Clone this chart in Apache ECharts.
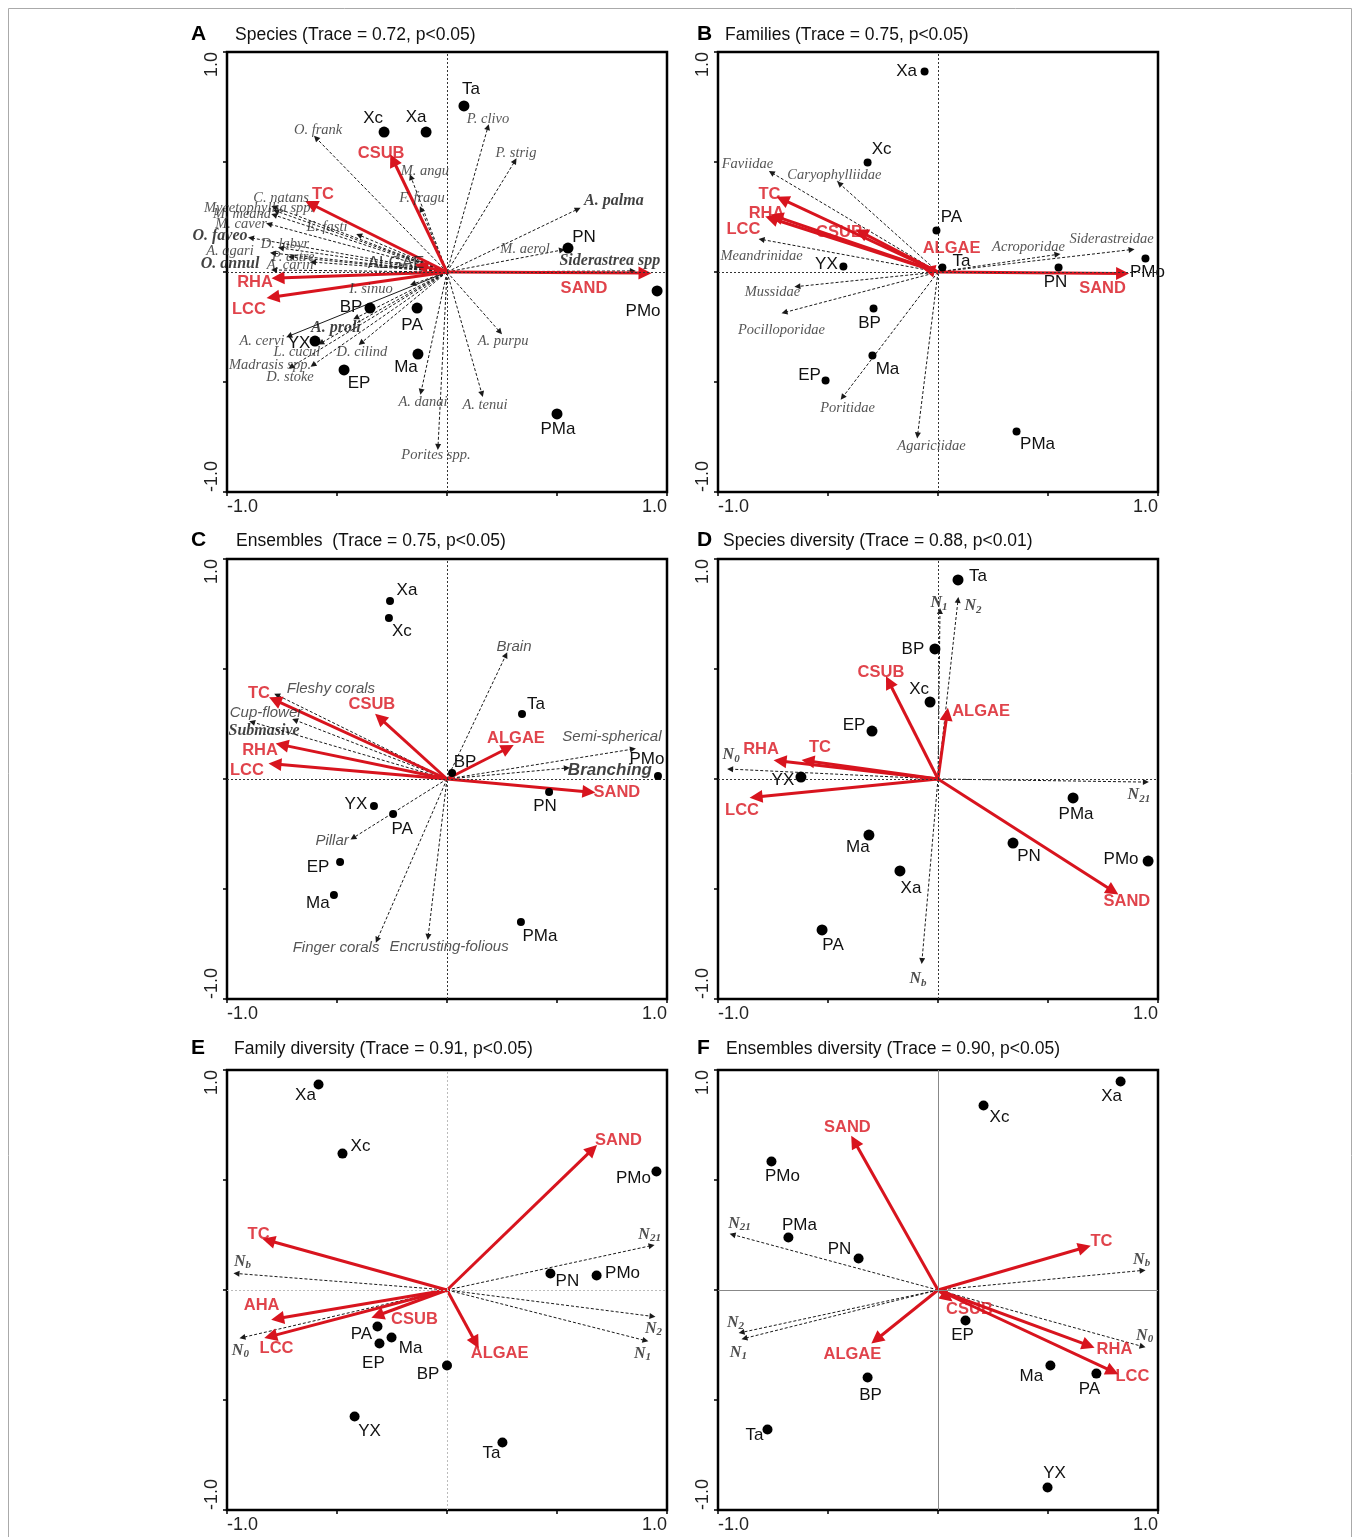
<!DOCTYPE html>
<html>
<head>
<meta charset="utf-8">
<title>RDA biplots A-F</title>
<script src="https://cdn.jsdelivr.net/npm/echarts@6/dist/echarts.min.js"></script>
<style>
html, body { margin: 0; padding: 0; background: #fff; }
#chart { width: 1356px; height: 1537px; }
</style>
</head>
<body>
<div id="chart"></div>
<script>
// values, in axis units (-1 .. 1)
const tickLabels = [-1, 1];

// A  Species
const sitesA = [['Ta',0.077,0.755],['Xc',-0.286,0.636],['Xa',-0.095,0.636],['PN',0.55,0.109],['PMo',0.955,-0.086],['PMa',0.5,-0.645],['BP',-0.35,-0.164],['PA',-0.136,-0.164],['YX',-0.6,-0.314],['Ma',-0.132,-0.373],['EP',-0.468,-0.445]];
const envA = [['TC',-0.618,0.309],['CSUB',-0.245,0.509],['RHA',-0.768,-0.027],['LCC',-0.791,-0.114],['SAND',0.9,-0.005],['ALGAE',-0.118,0.027]];
const speciesA = [['O. frank',-0.595,0.609],['M. angu',-0.164,0.432],['F. fragu',-0.118,0.286],['C. natans',-0.786,0.295],['Mycetophyllia spp.',-0.777,0.277],['M. meand',-0.786,0.259],['M. caver',-0.809,0.218],['E. fasti',-0.4,0.168],['O. faveo',-0.891,0.155],['D. labyr',-0.755,0.109],['A. agari',-0.791,0.086],['P. astre',-0.709,0.068],['A. carin',-0.609,0.045],['O. annul',-0.786,0.009],['I. sinuo',-0.155,-0.055],['A. cervi',-0.718,-0.291],['A. proli',-0.414,-0.209],['L. cucul',-0.573,-0.323],['D. cilind',-0.391,-0.323],['Madrasis spp.',-0.709,-0.432],['D. stoke',-0.609,-0.423],['A. danai',-0.118,-0.545],['Porites spp.',-0.041,-0.795],['A. tenui',0.159,-0.555],['A. purpu',0.241,-0.273],['P. clivo',0.186,0.659],['P. strig',0.309,0.505],['A. palma',0.595,0.286],['M. aerol',0.523,0.1],['Siderastrea spp',0.845,0.005]];

// B  Families
const sitesB = [['Xa',-0.061,0.911],['Xc',-0.32,0.498],['PA',-0.007,0.189],['Ta',0.02,0.02],['YX',-0.43,0.025],['BP',-0.293,-0.166],['Ma',-0.298,-0.38],['EP',-0.511,-0.493],['PN',0.548,0.02],['PMo',0.943,0.061],['PMa',0.357,-0.725]];
const envB = [['TC',-0.707,0.33],['RHA',-0.734,0.252],['LCC',-0.757,0.243],['CSUB',-0.348,0.18],['ALGAE',-0.043,0.011],['SAND',0.839,-0.007]];
const familiesB = [['Faviidae',-0.757,0.452],['Caryophylliidae',-0.448,0.402],['Meandrinidae',-0.802,0.148],['Mussidae',-0.639,-0.066],['Pocilloporidae',-0.698,-0.184],['Poritidae',-0.434,-0.57],['Agariciidae',-0.093,-0.743],['Acroporidae',0.543,0.08],['Siderastreidae',0.88,0.102]];

// C  Ensembles
const sitesC = [['Xa',-0.259,0.809],['Xc',-0.264,0.732],['Ta',0.341,0.295],['BP',0.023,0.027],['PMo',0.959,0.014],['PN',0.464,-0.059],['YX',-0.332,-0.123],['PA',-0.245,-0.159],['EP',-0.486,-0.377],['Ma',-0.514,-0.527],['PMa',0.336,-0.65]];
const envC = [['TC',-0.782,0.359],['CSUB',-0.305,0.277],['RHA',-0.75,0.155],['LCC',-0.782,0.068],['ALGAE',0.277,0.141],['SAND',0.645,-0.059]];
const ensemblesC = [['Brain',0.268,0.564],['Fleshy corals',-0.773,0.382],['Cup-flower',-0.691,0.268],['Submasive',-0.886,0.259],['Semi-spherical',0.845,0.136],['Branching',0.545,0.05],['Pillar',-0.427,-0.268],['Finger corals',-0.318,-0.732],['Encrusting-folious',-0.086,-0.718]];

// D  Species diversity
const sitesD = [['Ta',0.091,0.905],['BP',-0.014,0.591],['Xc',-0.036,0.35],['EP',-0.3,0.218],['YX',-0.623,0.009],['Ma',-0.314,-0.255],['Xa',-0.173,-0.418],['PA',-0.527,-0.686],['PN',0.341,-0.291],['PMa',0.614,-0.086],['PMo',0.955,-0.373]];
const envD = [['CSUB',-0.223,0.441],['ALGAE',0.041,0.295],['RHA',-0.718,0.082],['TC',-0.591,0.082],['LCC',-0.827,-0.082],['SAND',0.795,-0.509]];
const diversityD = [['N1',0.009,0.764],['N2',0.091,0.814],['N0',-0.945,0.045],['N21',0.945,-0.014],['Nb',-0.073,-0.827]];

// E  Family diversity
const sitesE = [['Xa',-0.584,0.934],['Xc',-0.475,0.62],['PMo',0.952,0.539],['PN',0.47,0.075],['PMo',0.68,0.066],['PA',-0.316,-0.166],['Ma',-0.252,-0.216],['EP',-0.307,-0.243],['BP',0,-0.343],['YX',-0.42,-0.575],['Ta',0.252,-0.693]];
const envE = [['SAND',0.661,0.639],['TC',-0.811,0.225],['AHA',-0.77,-0.13],['LCC',-0.802,-0.211],['CSUB',-0.316,-0.116],['ALGAE',0.13,-0.239]];
const diversityE = [['Nb',-0.957,0.075],['N0',-0.93,-0.216],['N21',0.93,0.202],['N2',0.934,-0.12],['N1',0.902,-0.23]];

// F  Ensembles diversity
const sitesF = [['Xa',0.83,0.948],['Xc',0.207,0.839],['PMo',-0.757,0.584],['PMa',-0.68,0.239],['PN',-0.361,0.143],['EP',0.125,-0.139],['BP',-0.32,-0.398],['Ma',0.511,-0.343],['PA',0.72,-0.38],['Ta',-0.775,-0.634],['YX',0.498,-0.898]];
const envF = [['SAND',-0.38,0.675],['TC',0.666,0.193],['RHA',0.684,-0.252],['LCC',0.793,-0.37],['CSUB',0.043,-0.034],['ALGAE',-0.28,-0.225]];
const diversityF = [['N21',-0.934,0.252],['Nb',0.93,0.089],['N0',0.93,-0.257],['N2',-0.893,-0.193],['N1',-0.88,-0.22]];

// label offsets (px from the mark), same order as the arrays above
const siteOffA = [[7,-17],[-11,-14],[-10,-15],[16,-11],[-14,20],[1,15],[-19,-1],[-5,17],[-16,2],[-12,13],[15,13]];
const envOffA = [[12,-10],[-12,-7],[-23,5],[-24,12],[-61,15],[-25,-3]];
const speciesOffA = [[2,-8],[14,-6],[1,-11],[7,-9],[-17,-3],[-32,-1],[-28,0],[-32,-8],[-31,-2],[4,-4],[-43,-2],[2,0],[-23,3],[-44,-6],[-42,5],[-27,5],[-20,10],[-24,9],[1,9],[-21,-2],[-23,12],[2,10],[-2,8],[3,11],[3,9],[0,-8],[1,-8],[36,-8],[-37,-1],[-23,-10]];
const siteOffB = [[-18,0],[14,-13],[15,-13],[19,-6],[-17,-2],[-4,15],[15,14],[-16,-5],[-3,15],[2,14],[21,13]];
const envOffB = [[-13,-5],[-10,-3],[-28,11],[-22,0],[23,-21],[-20,15]];
const familyOffB = [[-24,-8],[-5,-8],[0,17],[-25,6],[-3,18],[5,11],[14,11],[-29,-7],[-20,-10]];
const siteOffC = [[17,-11],[13,13],[14,-10],[13,-11],[-11,-17],[-4,14],[-18,-2],[9,15],[-22,5],[-16,8],[19,14]];
const envOffC = [[-16,-7],[-8,-14],[-22,6],[-28,6],[8,-10],[28,0]];
const ensembleOffC = [[8,-8],[54,-6],[-29,-7],[12,9],[-21,-12],[43,2],[-21,3],[-41,8],[21,10]];
const siteOffD = [[20,-4],[-22,0],[-11,-13],[-18,-6],[-18,3],[-11,12],[11,17],[11,15],[16,13],[3,16],[-27,-2]];
const envOffD = [[-8,-10],[34,-3],[-19,-12],[12,-14],[-14,13],[14,10]];
const divOffD = [[-1,-8],[15,6],[1,-14],[-7,13],[-4,18]];
const siteOffE = [[-13,11],[18,-7],[-23,7],[17,8],[26,-2],[-16,8],[19,11],[-6,20],[-19,9],[15,15],[-11,11]];
const envOffE = [[26,-9],[-10,-6],[-16,-13],[6,12],[37,4],[24,11]];
const divOffE = [[6,-12],[-2,13],[-2,-11],[1,12],[-3,13]];
const siteOffF = [[-9,15],[16,12],[11,15],[11,-12],[-19,-9],[-3,15],[3,18],[-19,11],[-7,16],[-13,6],[7,-14]];
const envOffF = [[-7,-14],[17,-6],[26,4],[20,5],[22,12],[-24,15]];
const divOffF = [[7,-11],[-1,-11],[2,-11],[-6,-10],[-6,14]];

const RED = '#d8141e';
const SANS = '"Liberation Sans", Arial, sans-serif';
const SERIF = '"Liberation Serif", "Times New Roman", serif';

const panels = [
  { letter: 'A', title: 'Species (Trace = 0.72, p<0.05)', pos: [227, 52], ty: 35, lx: 191, tx: 235,
    sites: sitesA, siteOff: siteOffA, env: envA, envOff: envOffA, resp: speciesA, respOff: speciesOffA,
    dot: 11, kind: 'serif', cross: { color: '#333', type: [2, 2], width: 1 } },
  { letter: 'B', title: 'Families (Trace = 0.75, p<0.05)', pos: [718, 52], ty: 35, lx: 697, tx: 725,
    sites: sitesB, siteOff: siteOffB, env: envB, envOff: envOffB, resp: familiesB, respOff: familyOffB,
    dot: 8, kind: 'serif', cross: { color: '#333', type: [2, 2], width: 1 } },
  { letter: 'C', title: 'Ensembles  (Trace = 0.75, p<0.05)', pos: [227, 559], ty: 541, lx: 191, tx: 236,
    sites: sitesC, siteOff: siteOffC, env: envC, envOff: envOffC, resp: ensemblesC, respOff: ensembleOffC,
    dot: 8, kind: 'sans', cross: { color: '#333', type: [2, 2], width: 1 } },
  { letter: 'D', title: 'Species diversity (Trace = 0.88, p<0.01)', pos: [718, 559], ty: 541, lx: 697, tx: 723,
    sites: sitesD, siteOff: siteOffD, env: envD, envOff: envOffD, resp: diversityD, respOff: divOffD,
    dot: 11, kind: 'N', cross: { color: '#333', type: [2, 2], width: 1 } },
  { letter: 'E', title: 'Family diversity (Trace = 0.91, p<0.05)', pos: [227, 1070], ty: 1049, lx: 191, tx: 234,
    sites: sitesE, siteOff: siteOffE, env: envE, envOff: envOffE, resp: diversityE, respOff: divOffE,
    dot: 10, kind: 'N', cross: { color: '#bbb', type: [2, 2], width: 1 } },
  { letter: 'F', title: 'Ensembles diversity (Trace = 0.90, p<0.05)', pos: [718, 1070], ty: 1049, lx: 697, tx: 726,
    sites: sitesF, siteOff: siteOffF, env: envF, envOff: envOffF, resp: diversityF, respOff: divOffF,
    dot: 10, kind: 'N', cross: { color: '#888', type: 'solid', width: 1 } }
];

const boldSerif = ['O. faveo', 'O. annul', 'A. proli', 'A. palma', 'Siderastrea spp', 'Submasive'];

function respLabelStyle(kind, name) {
  if (kind === 'N') return {};
  if (name === 'Branching') return { fontWeight: 'bold', fontSize: 17, color: '#111' };
  if (boldSerif.includes(name)) return { fontFamily: SERIF, fontWeight: 'bold', fontSize: 16, color: '#111' };
  return {};
}

function axisCfg(i, vertical) {
  return {
    gridIndex: i, type: 'value', min: -1, max: 1, interval: 0.5,
    axisLine: { show: false, onZero: false },
    splitLine: { show: false },
    axisTick: { show: true, length: 4, lineStyle: { color: '#000', width: 1.5 } },
    axisLabel: {
      customValues: tickLabels,
      formatter: v => v.toFixed(1),
      fontFamily: SANS, fontSize: 18, color: '#222', margin: 6,
      rotate: vertical ? 90 : 0,
      alignMinLabel: 'left', alignMaxLabel: 'right'
    }
  };
}

const option = {
  animation: false,
  backgroundColor: '#fff',
  graphic: [{ type: 'rect', silent: true, shape: { x: 8.5, y: 8.5, width: 1343, height: 1560 },
              style: { fill: 'none', stroke: '#aaa', lineWidth: 1 } }],
  title: [], grid: [], xAxis: [], yAxis: [], series: []
};

panels.forEach((p, i) => {
  option.grid.push({ left: p.pos[0], top: p.pos[1], width: 440, height: 440,
                     show: true, borderColor: '#000', borderWidth: 2.5 });
  option.xAxis.push(axisCfg(i, false));
  option.yAxis.push(axisCfg(i, true));

  option.title.push({ text: p.letter, left: p.lx, top: p.ty - 11, padding: 0,
                      textStyle: { fontFamily: SANS, fontWeight: 'bold', fontSize: 21, color: '#000' } });
  option.title.push({ text: p.title, left: p.tx, top: p.ty - 9, padding: 0,
                      textStyle: { fontFamily: SANS, fontWeight: 'normal', fontSize: 17.5, color: '#111' } });

  const ax = { xAxisIndex: i, yAxisIndex: i };

  // zero lines
  option.series.push(Object.assign({
    type: 'scatter', data: [], z: 1,
    markLine: { silent: true, symbol: 'none', label: { show: false }, lineStyle: p.cross,
                data: [{ xAxis: 0 }, { yAxis: 0 }] }
  }, ax));

  // response arrows (species / families / ensembles / diversity)
  option.series.push(Object.assign({
    type: 'lines', coordinateSystem: 'cartesian2d', z: 2, silent: true,
    symbol: ['none', 'triangle'], symbolSize: 6,
    lineStyle: { color: '#1a1a1a', width: 1, type: [3, 2], opacity: 1 },
    data: p.resp.map(d => ({ coords: [[0, 0], [d[1], d[2]]],
                             lineStyle: d[0] === 'A. cervi' ? { type: 'solid' } : {} }))
  }, ax));

  // environmental arrows
  option.series.push(Object.assign({
    type: 'lines', coordinateSystem: 'cartesian2d', z: 3, silent: true,
    symbol: ['none', 'triangle'], symbolSize: 13,
    lineStyle: { color: RED, width: 3, opacity: 1 },
    data: p.env.map(d => ({ coords: [[0, 0], [d[1], d[2]]] }))
  }, ax));

  // sites
  option.series.push(Object.assign({
    type: 'scatter', z: 5, silent: true, symbolSize: p.dot,
    itemStyle: { color: '#000', opacity: 1 },
    label: { show: true, position: 'inside', formatter: '{b}', color: '#111',
             fontFamily: SANS, fontSize: 17 },
    data: p.sites.map((d, k) => ({ name: d[0], value: [d[1], d[2]], label: { offset: p.siteOff[k] } }))
  }, ax));

  // response labels
  let respLabel;
  if (p.kind === 'N') {
    respLabel = {
      show: true, position: 'inside',
      formatter: prm => '{n|N}{s|' + prm.name.slice(1) + '}',
      rich: {
        n: { fontFamily: SERIF, fontStyle: 'italic', fontWeight: 'bold', fontSize: 16, color: '#222' },
        s: { fontFamily: SERIF, fontStyle: 'italic', fontWeight: 'bold', fontSize: 11, color: '#222', padding: [8, 0, 0, 0] }
      }
    };
  } else {
    respLabel = {
      show: true, position: 'inside', formatter: '{b}', color: '#2a2a2a',
      fontFamily: p.kind === 'serif' ? SERIF : SANS, fontStyle: 'italic',
      fontSize: p.kind === 'serif' ? 14.5 : 15
    };
  }
  option.series.push(Object.assign({
    type: 'scatter', z: 6, silent: true, symbolSize: 1,
    itemStyle: { color: 'rgba(0,0,0,0)' },
    label: respLabel,
    data: p.resp.map((d, k) => ({ name: d[0], value: [d[1], d[2]],
      label: Object.assign({ offset: p.respOff[k] }, respLabelStyle(p.kind, d[0])) }))
  }, ax));

  // environmental labels
  option.series.push(Object.assign({
    type: 'scatter', z: 7, silent: true, symbolSize: 1,
    itemStyle: { color: 'rgba(0,0,0,0)' },
    label: { show: true, position: 'inside', formatter: '{b}', color: RED, fontFamily: SANS,
             fontSize: 16.5, fontWeight: 'bold' },
    data: p.env.map((d, k) => ({ name: d[0], value: [d[1], d[2]],
      label: Object.assign({ offset: p.envOff[k] },
        (p.letter === 'A' && d[0] === 'ALGAE') ? { color: '#222', fontWeight: 'normal', fontSize: 17 } : {}) }))
  }, ax));
});

const chart = echarts.init(document.getElementById('chart'));
chart.setOption(option);
window.addEventListener('resize', () => chart.resize());
</script>
</body>
</html>
